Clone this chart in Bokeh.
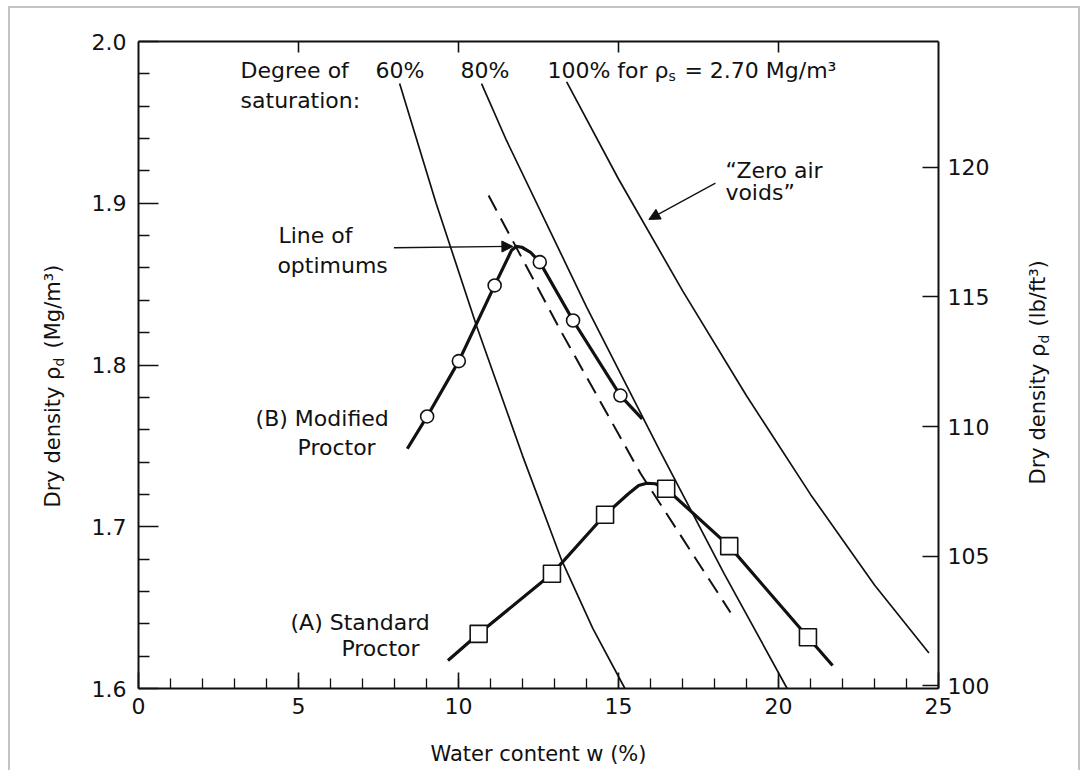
import math
from bokeh.plotting import figure
from bokeh.layouts import row
from bokeh.models import (Range1d, LinearAxis, FixedTicker, Label, Arrow,
                          NormalHead, PrintfTickFormatter)
from bokeh.embed import file_html
from bokeh.resources import INLINE

# ---------------- data ----------------
LB_PER_MG = 62.43  # lb/ft^3 per Mg/m^3

sat60_w = [8.16, 9.3, 10.56, 12.0, 13.23, 14.2, 15.2]
sat60_rho = [1.974, 1.900, 1.8244, 1.744, 1.679, 1.637, 1.600]

sat80_w = [10.72, 11.5, 14.0, 16.29, 18.3, 20.27]
sat80_rho = [1.974, 1.9388, 1.836, 1.7471, 1.671, 1.600]

sat100_w = [13.38, 15.0, 17.0, 19.0, 21.0, 23.0, 24.7]
sat100_rho = [1.975, 1.915, 1.846, 1.781, 1.720, 1.664, 1.622]

opt_w = [10.94, 13.19, 15.69, 18.50]
opt_rho = [1.9048, 1.8213, 1.7329, 1.6470]

mod_curve_w = [8.40, 9.02, 10.01, 11.13, 11.66, 11.80, 11.98, 12.25, 12.54, 13.58, 15.06, 15.74]
mod_curve_rho = [1.7482, 1.7682, 1.8024, 1.8492, 1.8710, 1.8733, 1.8728, 1.8697, 1.8636, 1.8275, 1.7811, 1.7667]
mod_pts_w = [9.02, 10.01, 11.13, 12.54, 13.58, 15.06]
mod_pts_rho = [1.7682, 1.8024, 1.8492, 1.8636, 1.8275, 1.7811]

std_curve_w = [9.67, 10.63, 12.92, 14.58, 15.31, 15.63, 15.88, 16.15, 16.49, 18.46, 20.92, 21.69]
std_curve_rho = [1.6173, 1.6338, 1.6709, 1.7074, 1.7204, 1.7255, 1.7269, 1.7266, 1.7235, 1.6880, 1.6317, 1.6142]
std_pts_w = [10.63, 12.92, 14.58, 16.49, 18.46, 20.92]
std_pts_rho = [1.6338, 1.6709, 1.7074, 1.7235, 1.6880, 1.6317]

x_ticks = [0, 5, 10, 15, 20, 25]
x_minor = [i for i in range(1, 25)]
top_ticks = [5, 10, 15, 20]
y_ticks = [1.6, 1.7, 1.8, 1.9, 2.0]
y_minor = [1.62, 1.64, 1.66, 1.68, 1.72, 1.74, 1.76, 1.78, 1.82, 1.84, 1.86, 1.88,
           1.92, 1.94, 1.96, 1.98]
y2_ticks = [100, 105, 110, 115, 120, 125]

FONT = "DejaVu Sans"
INK = "#111111"
H = 762
TOP, BOTTOM = 33, 82          # borders around the plotting frame
FRAME_H = H - TOP - BOTTOM    # 647 px

# ---------------- main figure ----------------
p = figure(width=918, height=H,
           x_range=Range1d(0, 25), y_range=Range1d(1.6, 2.0),
           output_backend="svg", toolbar_location=None,
           min_border_left=58, min_border_right=60,
           min_border_top=TOP, min_border_bottom=BOTTOM)
p.extra_y_ranges = {"lb": Range1d(1.6 * LB_PER_MG, 2.0 * LB_PER_MG)}
p.xgrid.visible = False
p.ygrid.visible = False
p.outline_line_color = None
p.background_fill_color = "white"
p.border_fill_color = "white"


def style_axis(ax, tick_in, minor_in):
    ax.axis_line_color = INK
    ax.axis_line_width = 2
    ax.major_tick_line_color = INK
    ax.major_tick_line_width = 1.6
    ax.major_tick_in = tick_in
    ax.major_tick_out = 0
    if minor_in:
        ax.minor_tick_line_color = INK
        ax.minor_tick_line_width = 1.3
        ax.minor_tick_in = minor_in
        ax.minor_tick_out = 0
    else:
        ax.minor_tick_line_color = None
    ax.major_label_text_font = FONT
    ax.major_label_text_font_size = "22px"
    ax.major_label_text_color = INK


xb = p.xaxis[0]
xb.ticker = FixedTicker(ticks=x_ticks, minor_ticks=x_minor)
style_axis(xb, 16, 10)
xb.major_label_standoff = 9
xb.axis_label = "Water content w (%)"
xb.axis_label_text_font = FONT
xb.axis_label_text_font_size = "21px"
xb.axis_label_text_font_style = "normal"
xb.axis_label_text_color = INK
xb.axis_label_standoff = 25

yl = p.yaxis[0]
yl.ticker = FixedTicker(ticks=y_ticks, minor_ticks=y_minor)
yl.formatter = PrintfTickFormatter(format="%.1f")
style_axis(yl, 20, 11)
yl.major_label_standoff = 12

xt = LinearAxis(ticker=FixedTicker(ticks=top_ticks, minor_ticks=[]),
                major_label_overrides={t: "" for t in top_ticks})
style_axis(xt, 11, 0)
p.add_layout(xt, "above")

yr = LinearAxis(y_range_name="lb", ticker=FixedTicker(ticks=y2_ticks, minor_ticks=[]),
                formatter=PrintfTickFormatter(format="%d"))
style_axis(yr, 16, 0)
yr.major_label_standoff = 9
p.add_layout(yr, "right")

# ---------------- curves ----------------
for ws, rs in ((sat60_w, sat60_rho), (sat80_w, sat80_rho), (sat100_w, sat100_rho)):
    p.line(ws, rs, line_color=INK, line_width=1.7)

p.line(opt_w, opt_rho, line_color=INK, line_width=2, line_dash="17 9")

p.line(mod_curve_w, mod_curve_rho, line_color=INK, line_width=3.2, line_join="round")
p.line(std_curve_w, std_curve_rho, line_color=INK, line_width=3.2, line_join="round")

p.scatter(mod_pts_w, mod_pts_rho, marker="circle", size=13, fill_color="white",
          line_color=INK, line_width=1.6)
p.scatter(std_pts_w, std_pts_rho, marker="square", size=17, fill_color="white",
          line_color=INK, line_width=1.6)

# ---------------- arrows ----------------
p.add_layout(Arrow(end=NormalHead(size=11, fill_color=INK, line_color=INK, line_width=1),
                   x_start=7.98, y_start=1.8725, x_end=11.70, y_end=1.8733,
                   line_color=INK, line_width=1.3))
p.add_layout(Arrow(end=NormalHead(size=11, fill_color=INK, line_color=INK, line_width=1),
                   x_start=18.03, y_start=1.9124, x_end=15.95, y_end=1.8900,
                   line_color=INK, line_width=1.3))


# ---------------- texts ----------------
def lab(fig, x, y, text, size="22px", angle=0.0):
    fig.add_layout(Label(x=x, y=y, text=text, text_font=FONT, text_font_size=size,
                         text_color=INK, text_align="left", text_baseline="middle",
                         angle=angle))


lab(p, 3.19, 1.9821, "Degree of")
lab(p, 3.19, 1.9635, "saturation:")
lab(p, 7.41, 1.9821, "60%")
lab(p, 10.06, 1.9821, "80%")
lab(p, 12.78, 1.9821, "100% for ρ")
lab(p, 16.56, 1.9784, "s", size="14px")
lab(p, 17.06, 1.9821, "= 2.70 Mg/m³")

lab(p, 4.375, 1.8800, "Line of")
lab(p, 4.34, 1.8615, "optimums")
lab(p, 3.66, 1.7670, "(B) Modified")
lab(p, 4.97, 1.7490, "Proctor")
lab(p, 4.75, 1.6408, "(A) Standard")
lab(p, 6.34, 1.6247, "Proctor")
lab(p, 18.34, 1.9200, "“Zero air")
lab(p, 18.34, 1.9067, "voids”")


# ---------------- side strips holding the rotated axis titles ----------------
# Their frames share the main frame's top and bottom; y counts pixels up from
# the frame bottom, x counts pixels from the strip's left edge.
def title_strip(width, pieces):
    q = figure(width=width, height=H, x_range=Range1d(0, width),
               y_range=Range1d(0, FRAME_H), title=None,
               output_backend="svg", toolbar_location=None,
               x_axis_location=None, y_axis_location=None,
               min_border_left=0, min_border_right=0,
               min_border_top=TOP, min_border_bottom=BOTTOM)
    q.grid.visible = False
    q.outline_line_color = None
    q.background_fill_color = "white"
    q.border_fill_color = "white"
    for x, y, txt, size in pieces:
        lab(q, x, y, txt, size=size, angle=math.pi / 2)
    return q


left_strip = title_strip(70, [
    (42, 181, "Dry density ρ", "21px"),
    (48, 322, "d", "14px"),
    (42, 340, "(Mg/m³)", "21px"),
])
right_strip = title_strip(80, [
    (39, 204, "Dry density ρ", "21px"),
    (45, 345, "d", "14px"),
    (39, 362, "(lb/ft³)", "21px"),
])

layout = row(left_strip, p, right_strip)
layout.styles = {"margin-left": "8px", "margin-top": "6px",
                 "border-left": "2px solid #c4c4c4", "border-top": "2px solid #c4c4c4",
                 "border-right": "2px solid #c4c4c4"}

open("out.html", "w").write(file_html(layout, INLINE))
